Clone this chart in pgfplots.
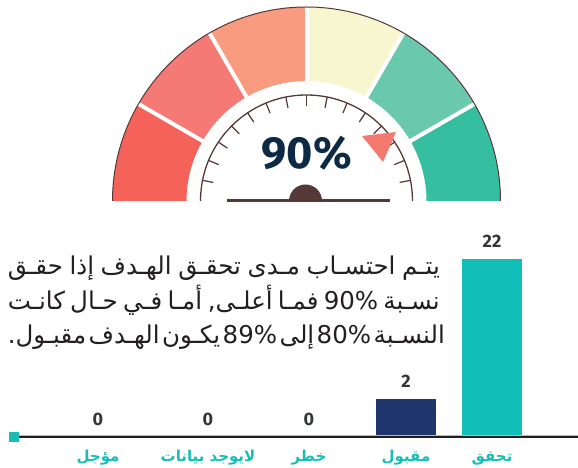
\documentclass[border=0pt]{standalone}
\usepackage{fontspec}
\usepackage{pgfplots}
\pgfplotsset{compat=1.18}
\TeXXeTstate=1
\setmainfont{Fira Sans}
\newfontfamily\arabicfont[Script=Arabic]{DejaVu Sans}

\definecolor{segA}{HTML}{F5625A}
\definecolor{segB}{HTML}{F57A75}
\definecolor{segC}{HTML}{F89B7F}
\definecolor{segD}{HTML}{F8F6CE}
\definecolor{segE}{HTML}{6AC8AD}
\definecolor{segF}{HTML}{35BE9F}
\definecolor{brownD}{HTML}{553838}
\definecolor{navy}{HTML}{0C2A44}
\definecolor{needle}{HTML}{F47A70}
\definecolor{tealbar}{HTML}{12BFB8}
\definecolor{navybar}{HTML}{20366D}
\definecolor{teallab}{HTML}{17BDB6}
\definecolor{numgray}{HTML}{333638}
\definecolor{txt}{HTML}{231F20}

\begin{document}
\begin{tikzpicture}[x=1pt,y=1pt]
\path[use as bounding box] (0,0) rectangle (578,468);

% gauge
\begin{scope}[shift={(306.5,267)}]
  \foreach \a/\c in {180/segA,150/segB,120/segC,90/segD,60/segE,30/segF}{
    \fill[\c] (\a:120) -- (\a:194) arc[start angle=\a, delta angle=-30, radius=194]
      -- (\a-30:120) arc[start angle=\a-30, delta angle=30, radius=120] -- cycle;
  }
  \foreach \a in {30,60,90,120,150}
    \draw[white, line width=4pt] (\a:115) -- (\a:197);
  \draw[brownD, line width=1pt] (180:194) arc[start angle=180, end angle=0, radius=194];
  \draw[brownD, line width=1.3pt] (180:106) arc[start angle=180, end angle=0, radius=106];
  \foreach \k in {1,...,15}
    \draw[brownD, line width=1.2pt] (\k*11.25:106) -- (\k*11.25:95);
  \draw[brownD, line width=2.5pt] (-80,0.5) -- (83,0.5);
  \fill[brownD] (-17.5,0) arc[start angle=180, end angle=0, radius=16.5] -- cycle;
  \fill[needle] (55.5,65) -- (89.5,69) -- (76.5,39) -- cycle;
  \node[text=navy, font=\bfseries\fontsize{45}{45}\selectfont, inner sep=0] at (0.2,48) {90\%};
\end{scope}

% paragraph
\begin{scope}[every node/.style={anchor=base east, inner sep=0, text=txt,
    font=\arabicfont\fontsize{24.5}{24.5}\selectfont}]
  \node at (440,193) {\spaceskip=.3em plus 2em minus .2em\hbox to 432pt{\beginR يتـم احتسـاب مـدى تحقـق الهـدف إذا حقـق\endR}};
  \node at (440,158) {\spaceskip=.3em plus 2em minus .2em\hbox to 432pt{\beginR نسـبة \beginL 90\%\endL{} فمـا أعلـى, أمـا فـي حـال كانـت\endR}};
  \node at (440,124) {\spaceskip=.3em plus 2em minus .2em\hbox to 432pt{\beginR النسـبة \beginL 80\%\endL{} إلى \beginL 89\%\endL{} يكـون الهـدف مقبـول.\endR}};
\end{scope}

% bar chart
\begin{axis}[
    at={(0pt,31pt)}, anchor=south west,
    scale only axis, width=578pt, height=178pt,
    xmin=0, xmax=578, ymin=0, ymax=22,
    axis line style={draw=none}, tick style={draw=none},
    ytick=\empty,
    xtick={98,208,309,406,492},
    xticklabels={{\beginR مؤجل\endR},{\beginR لايوجد بيانات\endR},{\beginR خطر\endR},{\beginR مقبول\endR},{\beginR تحقق\endR}},
    xticklabel style={anchor=base, yshift=-20pt, text=teallab,
      font=\arabicfont\bfseries\fontsize{15}{15}\selectfont},
    ybar, bar width=60pt, bar shift=0pt, clip=false,
    nodes near coords, point meta=explicit symbolic,
    nodes near coords style={anchor=base, yshift=11pt, text=numgray,
      font=\bfseries\fontsize{18}{18}\selectfont},
]
\addplot[draw=none, fill=none] coordinates {(98,0) [0] (208,0) [0] (309,0) [0]};
\addplot[draw=none, fill=navybar] coordinates {(406,4.7) [2]};
\addplot[draw=none, fill=tealbar] coordinates {(492,22) [22]};
\end{axis}

\draw[gray!55, line width=1pt] (17,32.8) -- (578,32.8);
\draw[black!88, line width=2pt] (17,31) -- (578,31);
\fill[teallab] (8.7,26.3) rectangle (18.7,35.7);
\end{tikzpicture}
\end{document}
